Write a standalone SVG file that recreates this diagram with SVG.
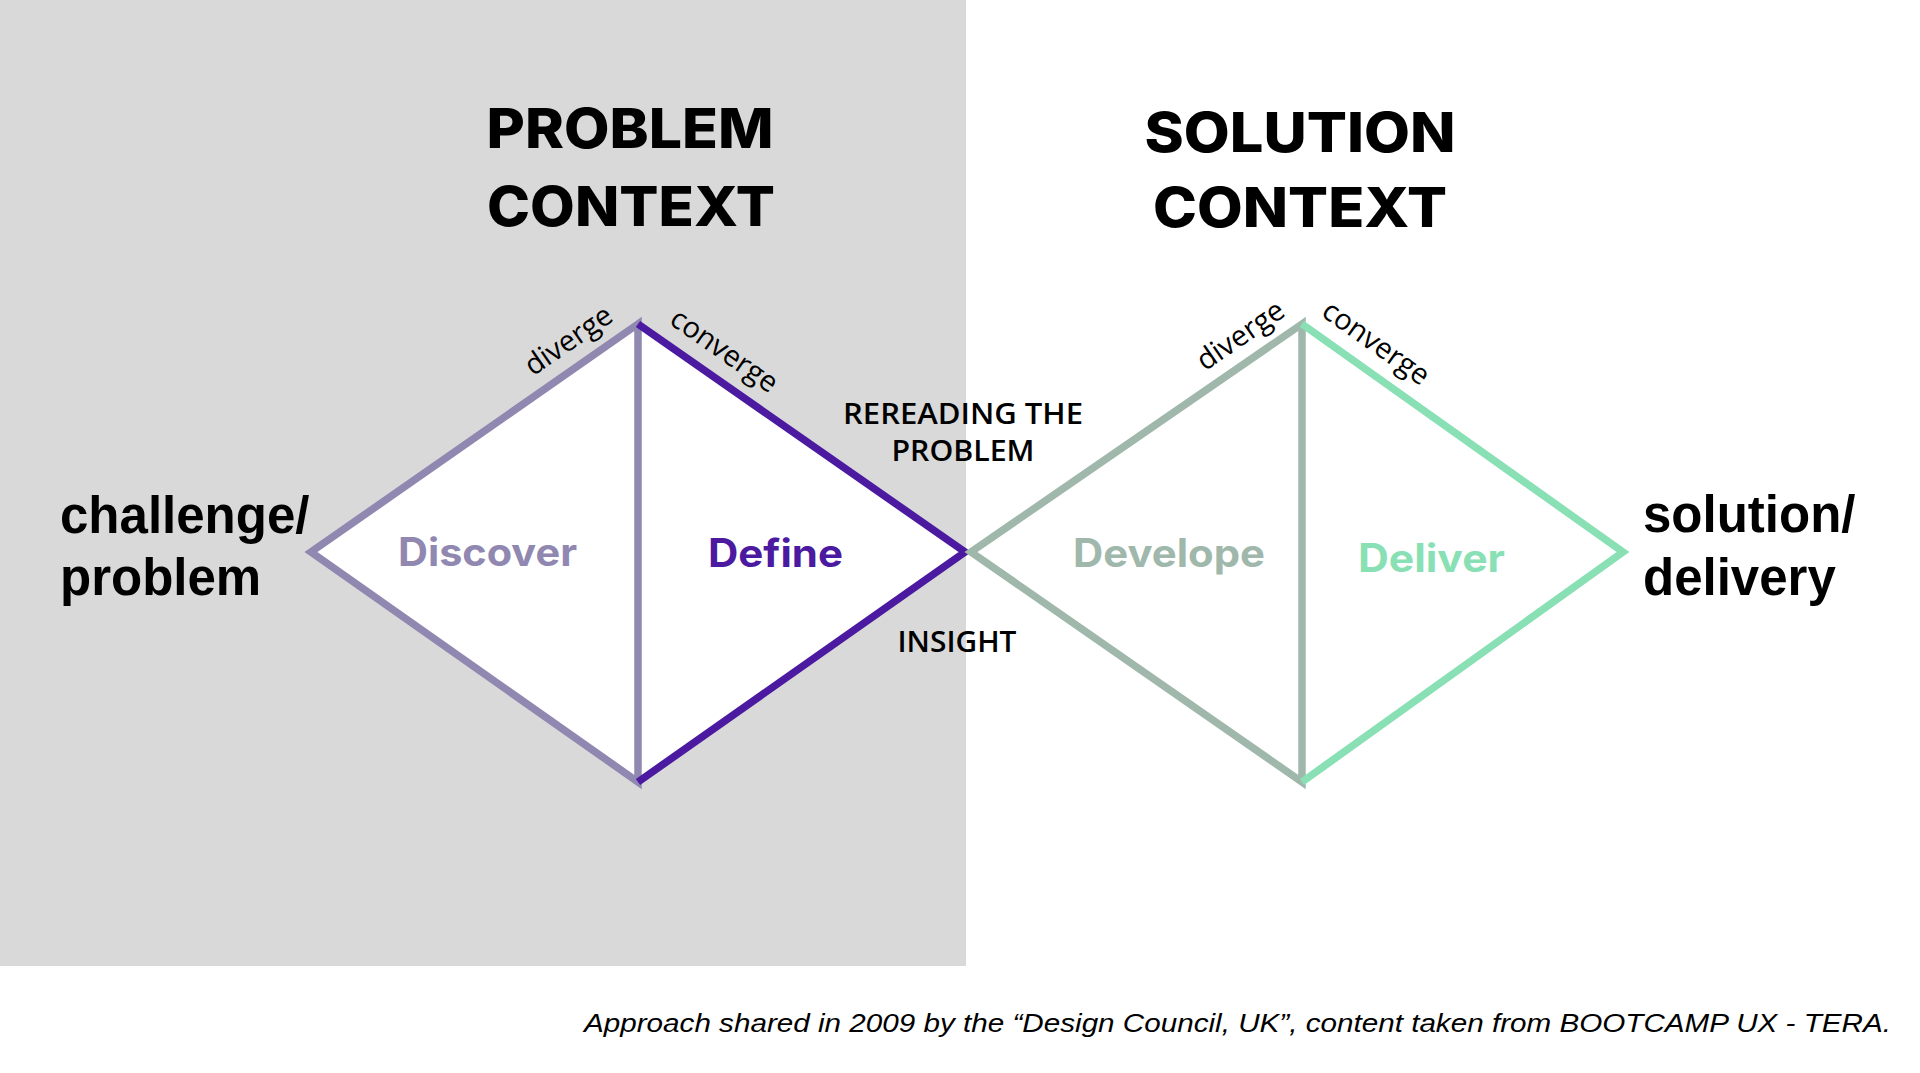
<svg xmlns="http://www.w3.org/2000/svg" width="1920" height="1073" viewBox="0 0 1920 1073">
<style>
.title{font-family:Inter,"Liberation Sans",sans-serif;font-weight:800;font-size:55px;fill:#000;text-anchor:middle}
.side{font-family:"Liberation Sans",Arial,sans-serif;font-weight:bold;font-size:51px;fill:#000}
.phase{font-family:Inter,"Liberation Sans",sans-serif;font-weight:700;font-size:39px}
.edge{font-family:"Open Sans","Liberation Sans",sans-serif;font-size:29px;fill:#000}
.mid{font-family:"Open Sans","Liberation Sans",sans-serif;font-weight:600;font-size:29.5px;fill:#000;text-anchor:middle}
.foot{font-family:"Liberation Sans",Arial,sans-serif;font-style:italic;font-size:26px;fill:#000}
.ln{fill:none;stroke-width:7.5;stroke-linejoin:miter;stroke-miterlimit:10}
</style>
<rect x="0" y="0" width="1920" height="1073" fill="#ffffff"/>
<rect id="problem-area" x="0" y="0" width="966" height="966" fill="#d9d9d9"/>

<g id="problem-context">
<text class="title" x="630" y="148" textLength="287" lengthAdjust="spacingAndGlyphs">PROBLEM</text>
<text class="title" x="631" y="226" textLength="288" lengthAdjust="spacingAndGlyphs">CONTEXT</text>
</g>
<g id="solution-context">
<text class="title" x="1300" y="152" textLength="311" lengthAdjust="spacingAndGlyphs">SOLUTION</text>
<text class="title" x="1300" y="227" textLength="294" lengthAdjust="spacingAndGlyphs">CONTEXT</text>
</g>

<g id="diamond-fills">
<polygon points="638,324 311,552 638,782 965,552" fill="#ffffff"/>
<polygon points="1302,324 971,552 1302,782 1623,552" fill="#ffffff"/>
</g>

<g id="discover">
<path class="ln" d="M638,324 L311,552 L638,782 Z" stroke="#9088b0"/>
<text class="phase" x="398" y="566" fill="#9088b0" textLength="179" lengthAdjust="spacingAndGlyphs">Discover</text>
<text class="edge" text-anchor="end" transform="translate(615,320) rotate(-34.6)">diverge</text>
</g>
<g id="define">
<path class="ln" d="M638,324 L965,552 L638,782" stroke="#4b1aa0"/>
<text class="phase" x="708" y="567" fill="#4b1aa0" textLength="135" lengthAdjust="spacingAndGlyphs">Define</text>
<text class="edge" transform="translate(668,323) rotate(34.9)">converge</text>
</g>
<g id="develope">
<path class="ln" d="M1302,324 L971,552 L1302,782 Z" stroke="#a0b8ac"/>
<text class="phase" x="1073" y="567" fill="#a0b8ac" textLength="192" lengthAdjust="spacingAndGlyphs">Develope</text>
<text class="edge" text-anchor="end" transform="translate(1287,315) rotate(-34.6)">diverge</text>
</g>
<g id="deliver">
<path class="ln" d="M1302,324 L1623,552 L1302,782" stroke="#88e0b4"/>
<text class="phase" x="1358" y="572" fill="#88e0b4" textLength="147" lengthAdjust="spacingAndGlyphs">Deliver</text>
<text class="edge" transform="translate(1320,315) rotate(35.3)">converge</text>
</g>

<g id="challenge">
<text class="side" x="60" y="533">challenge/</text>
<text class="side" x="60" y="595">problem</text>
</g>
<g id="solution">
<text class="side" x="1643" y="532">solution/</text>
<text class="side" x="1643" y="595">delivery</text>
</g>

<g id="rereading">
<text class="mid" x="963" y="424" textLength="240" lengthAdjust="spacingAndGlyphs">REREADING THE</text>
<text class="mid" x="963" y="461" textLength="143" lengthAdjust="spacingAndGlyphs">PROBLEM</text>
</g>
<g id="insight">
<text class="mid" x="957" y="652" textLength="119" lengthAdjust="spacingAndGlyphs">INSIGHT</text>
</g>

<g id="connectors"></g>

<g id="footer">
<text class="foot" x="584" y="1032" textLength="1307" lengthAdjust="spacingAndGlyphs">Approach shared in 2009 by the “Design Council, UK”, content taken from BOOTCAMP UX - TERA.</text>
</g>
</svg>
